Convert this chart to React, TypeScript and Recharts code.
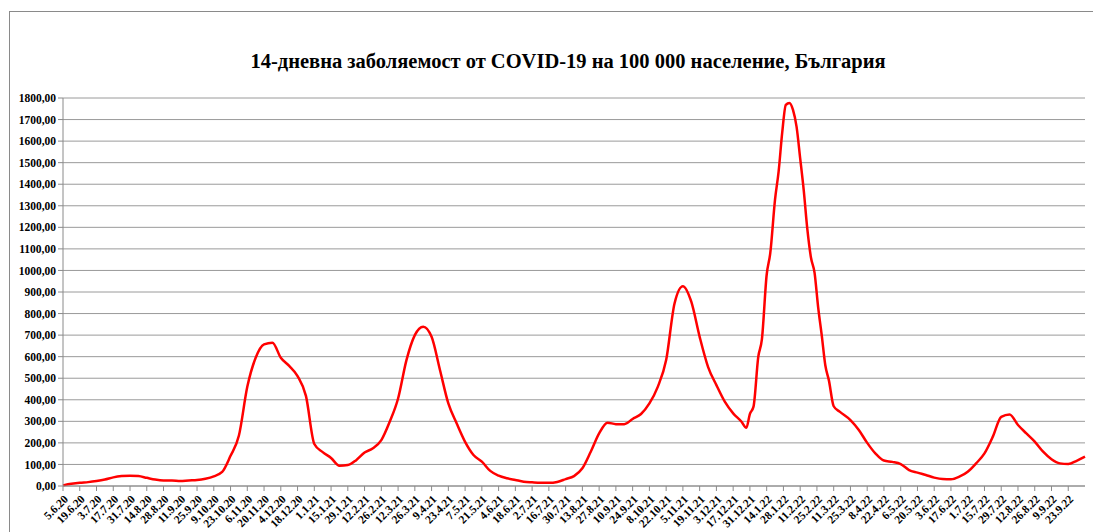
import React from 'react';
import { LineChart, Line, XAxis, YAxis, CartesianGrid } from 'recharts';

// days since 5.6.20 and the 14-day incidence per 100 000 at that day
const dayIndex = [
  0, 7, 14, 21, 28, 35, 42, 49, 56, 63, 70, 77, 84, 91, 98, 105, 112, 119, 126, 133,
  140, 147, 154, 161, 168, 175, 182, 189, 196, 203, 210, 217, 224, 231, 238, 245, 252, 259, 266, 273,
  280, 287, 294, 301, 308, 315, 322, 329, 336, 343, 350, 357, 364, 371, 378, 385, 392, 399, 406, 413,
  420, 427, 434, 441, 448, 455, 462, 469, 476, 483, 490, 497, 504, 511, 518, 525, 532, 539, 546, 553,
  560, 567, 571, 574, 577, 581, 584, 588, 591, 595, 598, 601, 604, 607, 610, 613, 616, 619, 622, 625,
  628, 631, 634, 637, 640, 644, 649, 658, 665, 672, 679, 686, 693, 700, 707, 714, 721, 728, 735, 742,
  749, 756, 763, 770, 777, 784, 791, 798, 805, 812, 819, 826, 833, 840, 847, 854,
];

const incidence = [
  3, 10, 15, 18, 23, 30, 40, 46, 48, 46, 38, 30, 26, 26, 23, 26, 28, 34, 45, 65,
  140, 234, 460, 595, 657, 665, 595, 557, 510, 418, 195, 157, 130, 94, 97, 120, 155, 175, 213, 298,
  406, 584, 700, 739, 692, 538, 383, 290, 205, 144, 113, 70, 48, 36, 28, 20, 17, 15, 15, 19,
  32, 46, 82, 159, 244, 294, 287, 287, 311, 334, 383, 460, 584, 847, 927, 855, 692, 553, 468, 391,
  337, 298, 270, 335, 368, 600, 680, 980, 1080, 1330, 1460, 1640, 1768, 1777, 1745, 1666, 1520, 1370, 1190, 1060,
  990, 830, 700, 560, 490, 370, 345, 306, 260, 200, 150, 118, 112, 102, 74, 62, 51, 39, 32, 31,
  43, 66, 105, 151, 229, 321, 332, 283, 244, 206, 159, 124, 105, 102, 117, 136,
];

const tickLabels = [
  '5.6.20', '19.6.20', '3.7.20', '17.7.20', '31.7.20', '14.8.20', '28.8.20', '11.9.20', '25.9.20', '9.10.20',
  '23.10.20', '6.11.20', '20.11.20', '4.12.20', '18.12.20', '1.1.21', '15.1.21', '29.1.21', '12.2.21', '26.2.21',
  '12.3.21', '26.3.21', '9.4.21', '23.4.21', '7.5.21', '21.5.21', '4.6.21', '18.6.21', '2.7.21', '16.7.21',
  '30.7.21', '13.8.21', '27.8.21', '10.9.21', '24.9.21', '8.10.21', '22.10.21', '5.11.21', '19.11.21', '3.12.21',
  '17.12.21', '31.12.21', '14.1.22', '28.1.22', '11.2.22', '25.2.22', '11.3.22', '25.3.22', '8.4.22', '22.4.22',
  '6.5.22', '20.5.22', '3.6.22', '17.6.22', '1.7.22', '15.7.22', '29.7.22', '12.8.22', '26.8.22', '9.9.22',
  '23.9.22',
];

const yTicks = [0, 100, 200, 300, 400, 500, 600, 700, 800, 900, 1000, 1100, 1200, 1300, 1400, 1500, 1600, 1700, 1800];

const data = dayIndex.map((d, i) => ({ day: d, value: incidence[i] }));
const xTicks = tickLabels.map((_, i) => i * 14);

const FONT = '"Liberation Serif", "Times New Roman", serif';

const DateTick = (props: any) => {
  const { x, y, payload } = props;
  const label = tickLabels[Math.round(payload.value / 14)];
  return (
    <g transform={`translate(${x + 3},${y + 4})`}>
      <text
        transform="rotate(-45)"
        textAnchor="end"
        dominantBaseline="central"
        fontFamily={FONT}
        fontWeight="bold"
        fontSize={11.5}
        fill="#000"
      >
        {label}
      </text>
    </g>
  );
};

export default function App() {
  return (
    <div style={{ position: 'absolute', left: 0, top: 0, width: 1093, height: 532, overflow: 'hidden', background: '#fff' }}>
      {/* chart frame */}
      <div style={{ position: 'absolute', left: 9, top: 11, width: 1200, height: 600, border: '1px solid #8a8a8a' }} />
      <div
        style={{
          position: 'absolute',
          left: 0,
          width: 1136,
          top: 50,
          textAlign: 'center',
          fontFamily: FONT,
          fontWeight: 'bold',
          fontSize: 20.5,
          color: '#000',
        }}
      >
        14-дневна заболяемост от COVID-19 на 100 000 население, България
      </div>
      <div style={{ position: 'absolute', left: 0, top: 0 }}>
        <LineChart width={1093} height={532} data={data} margin={{ top: 98, right: 8, bottom: 0, left: 0 }}>
          <CartesianGrid vertical={false} stroke="#9a9a9a" strokeWidth={1} />
          <XAxis
            dataKey="day"
            type="number"
            domain={[0, 854]}
            ticks={xTicks}
            interval={0}
            height={46}
            tickSize={5}
            axisLine={{ stroke: '#8a8a8a' }}
            tickLine={{ stroke: '#8a8a8a' }}
            tick={<DateTick />}
          />
          <YAxis
            type="number"
            domain={[0, 1800]}
            ticks={yTicks}
            interval={0}
            width={63}
            tickSize={5}
            axisLine={{ stroke: '#8a8a8a' }}
            tickLine={{ stroke: '#8a8a8a' }}
            tickFormatter={(v: number) => v.toFixed(2).replace('.', ',')}
            tick={{ fontFamily: FONT, fontWeight: 'bold', fontSize: 11.5, fill: '#000' }}
          />
          <Line
            type="monotone"
            dataKey="value"
            stroke="#ff0000"
            strokeWidth={2.5}
            dot={false}
            isAnimationActive={false}
          />
        </LineChart>
      </div>
    </div>
  );
}
